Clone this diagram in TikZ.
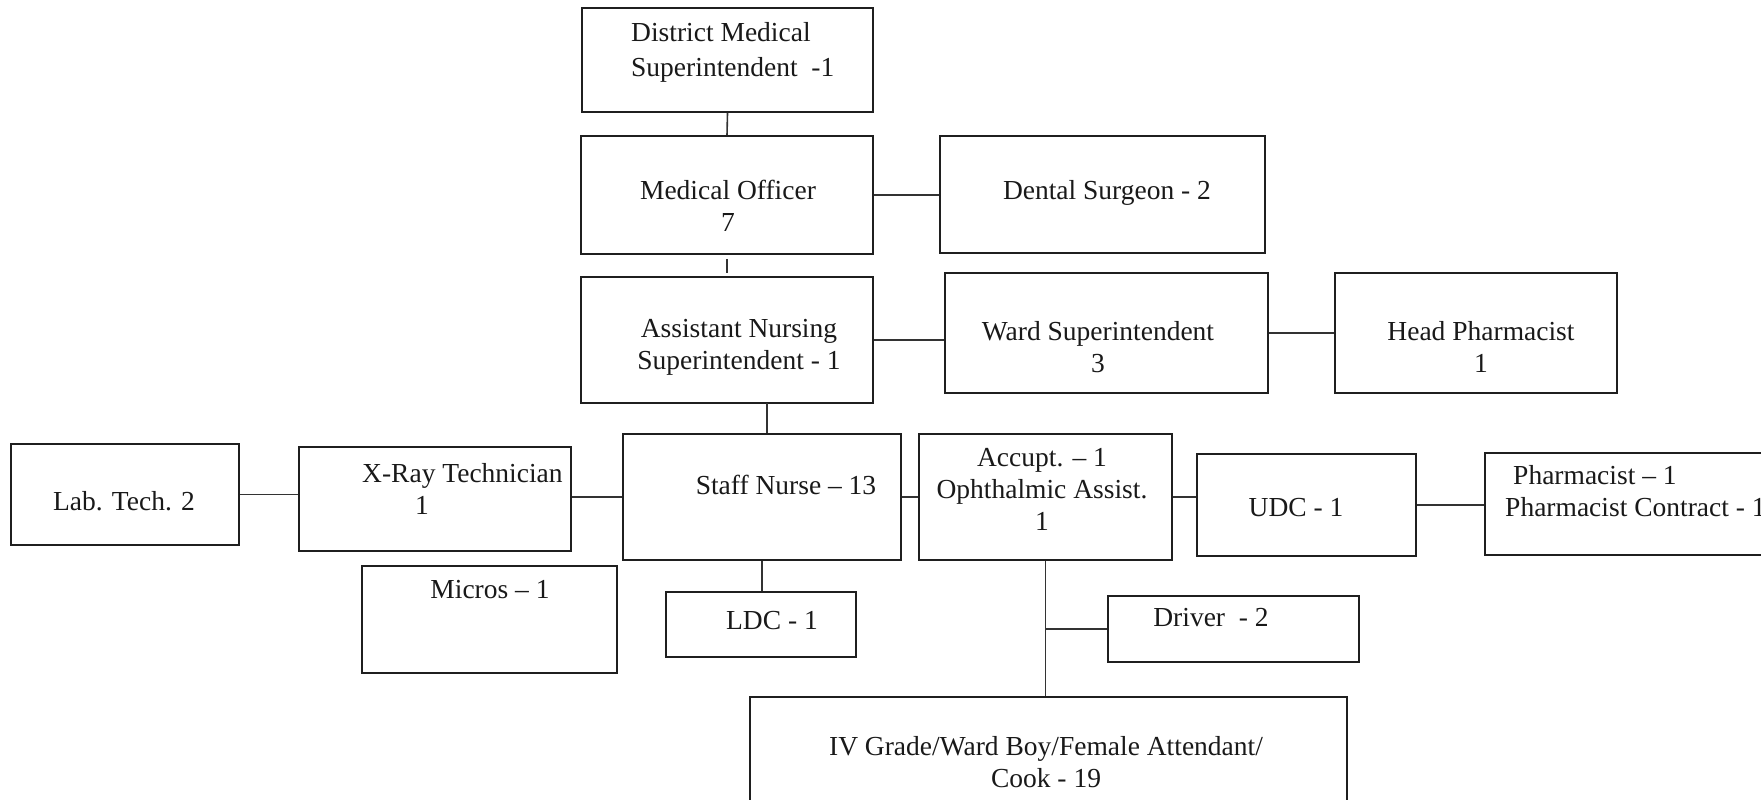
\documentclass[tikz,border=0pt]{standalone}
\usepackage{fontspec}
\setmainfont{Liberation Serif}
\usetikzlibrary{fit}

\begin{document}
\begin{tikzpicture}[x=1pt,y=-1pt,
  box/.style={draw=black!88, line width=1.8pt, inner sep=0pt, rectangle},
  txt/.style={align=center, inner sep=0pt, text=black!90,
              font=\fontsize{27.5}{32}\selectfont},
  link/.style={draw=black!80, line width=1.6pt}]
\useasboundingbox (0,0) rectangle (1761,800);
\clip (0,0) rectangle (1761,800);

% ---- boxes (corner to corner) ----
\node[box, fit={(582,8) (873,112)}]     (dms)    {};
\node[box, fit={(581,136) (873,254)}]   (mo)     {};
\node[box, fit={(940,136) (1265,253)}]  (dental) {};
\node[box, fit={(581,277) (873,403)}]   (ans)    {};
\node[box, fit={(945,273) (1268,393)}]  (ward)   {};
\node[box, fit={(1335,273) (1617,393)}] (head)   {};
\node[box, fit={(11,444) (239,545)}]    (lab)    {};
\node[box, fit={(299,447) (571,551)}]   (xray)   {};
\node[box, fit={(623,434) (901,560)}]   (staff)  {};
\node[box, fit={(919,434) (1172,560)}]  (accupt) {};
\node[box, fit={(1197,454) (1416,556)}] (udc)    {};
\node[box, fit={(1485,453) (1800,555)}] (pharm)  {};
\node[box, fit={(362,566) (617,673)}]   (micros) {};
\node[box, fit={(666,592) (856,657)}]   (ldc)    {};
\node[box, fit={(1108,596) (1359,662)}] (driver) {};
\node[box, fit={(750,697) (1347,840)}]  (iv)     {};

% ---- labels ----
\node[txt, align=left, anchor=west] (dms-t) at (631,52)
  {District Medical\\[3pt] Superintendent\ \ -1};
\node[txt] (mo-t)     at (728,206)  {Medical Officer\\7};
\node[txt] (dental-t) at (1107,193) {Dental Surgeon - 2};
\node[txt] (ans-t)    at (739,347)  {Assistant Nursing\\Superintendent - 1};
\node[txt] (ward-t)   at (1098,347) {Ward Superintendent\\3};
\node[txt] (head-t)   at (1481,347) {Head Pharmacist\\1};
\node[txt] (lab-t)    at (124,501)  {Lab. Tech. 2};
\node[txt, align=left, anchor=west] (xray-t) at (362,489)
  {X-Ray Technician\\\hspace*{53pt}1};
\node[txt] (staff-t)  at (786,485)  {Staff Nurse – 13};
\node[txt] (accupt-t) at (1042,489) {Accupt. – 1\\Ophthalmic Assist.\\1};
\node[txt] (udc-t)    at (1296,508) {UDC - 1};
\node[txt, align=left, anchor=west] (pharm-t) at (1505,491)
  {\hspace*{8pt}Pharmacist – 1\\Pharmacist Contract - 1};
\node[txt] (micros-t) at (490,590)  {Micros – 1};
\node[txt] (ldc-t)    at (772,621)  {LDC - 1};
\node[txt] (driver-t) at (1211,618) {Driver\ \ - 2};
\node[txt] (iv-t)     at (1046,762) {IV Grade/Ward Boy/Female Attendant/\\Cook - 19};

% ---- connectors ----
\coordinate (j-ans) at (767,403);
\draw[link] (dms.south) -- (mo.north);
\draw[link] (mo.east) -- (mo.east -| dental.west);
\draw[link, shorten <=4pt, shorten >=3pt] (mo.south) -- (mo.south |- ans.north);
\draw[link] (ans.east) -- (ans.east -| ward.west);
\draw[link] (ward.east) -- (ward.east -| head.west);
\draw[link] (j-ans) -- (j-ans |- staff.north);
\draw[link] (staff.west) -- (staff.west -| xray.east);
\draw[link] (lab.east) -- (lab.east -| xray.west);
\draw[link] (staff.south) -- (staff.south |- ldc.north);
\draw[link] (staff.east) -- (staff.east -| accupt.west);
\draw[link] (accupt.east) -- (accupt.east -| udc.west);
\draw[link] (udc.east) -- (udc.east -| pharm.west);
\draw[link] (accupt.south) -- (accupt.south |- iv.north);
\coordinate (j-drv) at (accupt.south |- driver.west);
\draw[link] (j-drv) -- (driver.west);
\end{tikzpicture}
\end{document}
